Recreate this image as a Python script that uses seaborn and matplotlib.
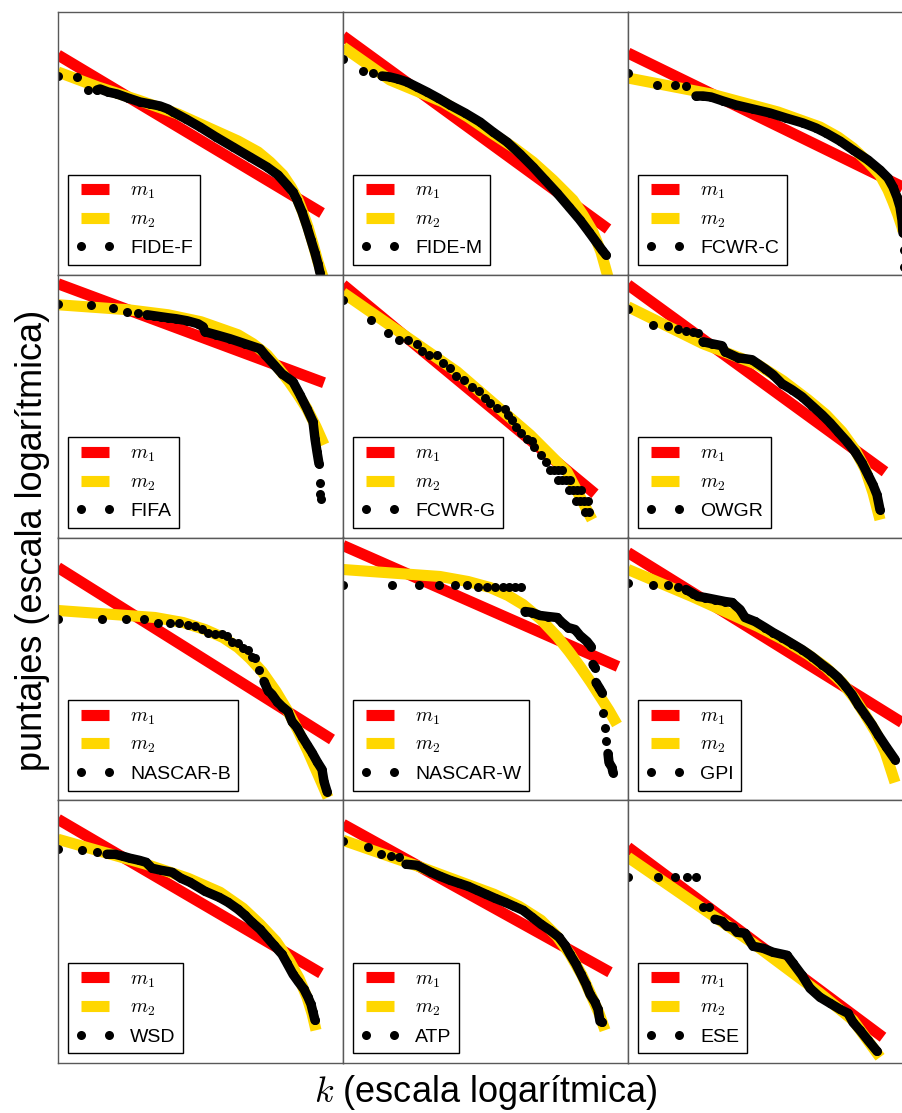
import numpy as np
import matplotlib
matplotlib.use("Agg")
import matplotlib.pyplot as plt
import seaborn as sns

sns.set_style("white")
plt.rcParams["font.family"] = ["Liberation Sans", "DejaVu Sans"]
plt.rcParams["mathtext.fontset"] = "cm"
plt.rcParams["text.color"] = "black"

# ---------------- data (log10 of rank k, log10 of score) ----------------
# FIDE-F
FIDE_F_K = [0, 0.19, 0.30, 0.39, 0.42, 0.50, 0.59, 0.70, 0.82, 0.92, 1.02, 1.10, 1.15, 1.28, 1.42,
            1.58, 1.75, 1.92, 2.09, 2.20, 2.29, 2.35, 2.39, 2.44, 2.49, 2.53, 2.57, 2.60, 2.62]
FIDE_F_S = [2.36, 2.35, 2.22, 2.22, 2.23, 2.20, 2.18, 2.14, 2.10, 2.08, 2.06, 2.03, 2.00, 1.93, 1.85,
            1.75, 1.65, 1.55, 1.45, 1.37, 1.27, 1.20, 1.12, 1.00, 0.85, 0.72, 0.59, 0.48, 0.39]
FIDE_F_M1_K = [0, 2.64]
FIDE_F_M1_S = [2.57, 0.99]
FIDE_F_M2_K = [0, 0.40, 0.80, 1.20, 1.60, 1.80, 2.00, 2.12, 2.25, 2.33, 2.40, 2.45, 2.50, 2.55, 2.60, 2.65]
FIDE_F_M2_S = [2.40, 2.25, 2.12, 1.98, 1.80, 1.71, 1.60, 1.50, 1.37, 1.25, 1.12, 0.99, 0.85, 0.68, 0.50, 0.35]
FIDE_F_RUNS = [(3, 28)]

# FIDE-M
FIDE_M_K = [0, 0.20, 0.30, 0.39, 0.47, 0.55, 0.64, 0.74, 0.84, 0.95, 1.07, 1.22, 1.37, 1.50, 1.64,
            1.77, 1.90, 2.02, 2.14, 2.26, 2.37, 2.46, 2.54, 2.59, 2.63]
FIDE_M_S = [2.53, 2.41, 2.39, 2.36, 2.35, 2.33, 2.30, 2.25, 2.20, 2.14, 2.07, 1.99, 1.90, 1.80, 1.70,
            1.58, 1.45, 1.32, 1.19, 1.05, 0.92, 0.80, 0.69, 0.62, 0.57]
FIDE_M_M1_K = [0, 2.65]
FIDE_M_M1_S = [2.76, 0.83]
FIDE_M_M2_K = [0, 0.47, 1.00, 1.25, 1.50, 1.70, 1.90, 2.10, 2.30, 2.40, 2.50, 2.58, 2.65]
FIDE_M_M2_S = [2.65, 2.32, 2.10, 1.95, 1.78, 1.65, 1.50, 1.32, 1.12, 0.97, 0.80, 0.60, 0.35]
FIDE_M_RUNS = [(3, 24)]

# FCWR-C
FCWR_C_K = [0, 0.29, 0.47, 0.58, 0.68, 0.75, 0.83, 0.95, 1.08, 1.25, 1.42, 1.58, 1.75, 1.88, 1.98,
            2.12, 2.25, 2.40, 2.52, 2.60, 2.65, 2.69, 2.72, 2.74, 2.75, 2.76, 2.76, 2.77]
FCWR_C_S = [2.39, 2.27, 2.27, 2.26, 2.16, 2.16, 2.15, 2.11, 2.07, 2.03, 1.99, 1.94, 1.89, 1.84, 1.79,
            1.71, 1.62, 1.52, 1.42, 1.34, 1.25, 1.15, 1.05, 0.92, 0.79, 0.62, 0.45, 0.30]
FCWR_C_M1_K = [0, 2.85]
FCWR_C_M1_S = [2.59, 1.20]
FCWR_C_M2_K = [0, 0.83, 1.50, 1.92, 2.10, 2.25, 2.40, 2.52, 2.60, 2.65, 2.70, 2.74, 2.78, 2.82]
FCWR_C_M2_S = [2.34, 2.18, 2.00, 1.85, 1.75, 1.64, 1.50, 1.37, 1.22, 1.10, 0.97, 0.85, 0.68, 0.50]
FCWR_C_RUNS = [(4, 27)]

# FIFA
FIFA_K = [0, 0.33, 0.55, 0.69, 0.80, 0.89, 0.96, 1.03, 1.10, 1.18, 1.29, 1.40, 1.45, 1.47, 1.58,
          1.72, 1.87, 2.02, 2.07, 2.16, 2.24, 2.35, 2.42, 2.49, 2.55, 2.57, 2.59, 2.61, 2.62, 2.62, 2.63]
FIFA_S = [2.71, 2.70, 2.67, 2.63, 2.62, 2.60, 2.59, 2.58, 2.57, 2.56, 2.54, 2.51, 2.48, 2.43, 2.40,
          2.36, 2.31, 2.26, 2.20, 2.10, 2.01, 1.93, 1.80, 1.66, 1.53, 1.36, 1.23, 1.11, 0.92, 0.81, 0.76]
FIFA_M1_K = [0, 2.66]
FIFA_M1_S = [2.91, 1.92]
FIFA_M2_K = [0, 0.70, 1.10, 1.43, 1.80, 1.95, 2.09, 2.20, 2.31, 2.40, 2.49, 2.58, 2.66]
FIFA_M2_S = [2.70, 2.65, 2.60, 2.53, 2.40, 2.31, 2.20, 2.07, 1.93, 1.80, 1.66, 1.48, 1.30]
FIFA_RUNS = [(5, 27)]

# FCWR-G
FCWR_G_K = [0, 0.28, 0.45, 0.56, 0.65, 0.74, 0.79, 0.86, 0.94, 1.00, 1.07, 1.13, 1.21, 1.29, 1.36,
            1.42, 1.47, 1.54, 1.62, 1.65, 1.69, 1.73, 1.78, 1.84, 1.89, 1.91, 1.98, 2.03, 2.07, 2.11,
            2.15, 2.19, 2.15, 2.19, 2.23, 2.27, 2.26, 2.30, 2.34, 2.38, 2.33, 2.37, 2.41, 2.45, 2.42, 2.46]
FCWR_G_S = [2.75, 2.55, 2.42, 2.35, 2.35, 2.31, 2.24, 2.20, 2.20, 2.12, 2.07, 1.99, 1.95, 1.88, 1.84,
            1.77, 1.72, 1.67, 1.66, 1.60, 1.55, 1.48, 1.42, 1.36, 1.34, 1.28, 1.20, 1.13, 1.05, 1.05,
            1.05, 1.05, 0.95, 0.95, 0.95, 0.95, 0.85, 0.85, 0.85, 0.85, 0.74, 0.74, 0.74, 0.74, 0.63, 0.63]
FCWR_G_M1_K = [0, 2.52]
FCWR_G_M1_S = [2.90, 0.81]
FCWR_G_M2_K = [0, 1.14, 1.87, 2.24, 2.49]
FCWR_G_M2_S = [2.82, 2.03, 1.40, 1.03, 0.55]
FCWR_G_RUNS = []

# OWGR
OWGR_K = [0, 0.25, 0.40, 0.50, 0.58, 0.65, 0.70, 0.75, 0.84, 0.94, 0.97, 1.10, 1.24, 1.37, 1.45,
          1.54, 1.64, 1.74, 1.84, 1.94, 2.02, 2.10, 2.19, 2.27, 2.34, 2.40, 2.45, 2.49, 2.52]
OWGR_S = [2.66, 2.50, 2.49, 2.46, 2.44, 2.43, 2.42, 2.33, 2.31, 2.29, 2.23, 2.17, 2.15, 2.06, 2.00,
          1.91, 1.85, 1.78, 1.69, 1.60, 1.52, 1.43, 1.33, 1.23, 1.12, 1.00, 0.90, 0.80, 0.65]
OWGR_M1_K = [0, 2.57]
OWGR_M1_S = [2.90, 1.03]
OWGR_M2_K = [0, 0.75, 1.30, 1.55, 1.80, 1.98, 2.14, 2.27, 2.37, 2.45, 2.52]
OWGR_M2_S = [2.68, 2.31, 2.10, 1.94, 1.75, 1.60, 1.43, 1.25, 1.06, 0.82, 0.55]
OWGR_RUNS = [(7, 28)]

# NASCAR-B
NASCAR_B_K = [0, 0.44, 0.68, 0.86, 1.00, 1.12, 1.21, 1.30, 1.37, 1.44, 1.50, 1.57, 1.64, 1.69, 1.74,
              1.80, 1.85, 1.90, 1.94, 1.97, 2.01, 2.06, 2.10, 2.14, 2.19, 2.24, 2.30, 2.34, 2.39, 2.44,
              2.49, 2.54, 2.59, 2.64, 2.66, 2.69]
NASCAR_B_S = [2.19, 2.18, 2.18, 2.18, 2.15, 2.15, 2.15, 2.13, 2.12, 2.09, 2.05, 2.04, 2.04, 2.02, 1.96,
              1.95, 1.90, 1.88, 1.81, 1.80, 1.68, 1.56, 1.47, 1.43, 1.36, 1.31, 1.26, 1.16, 1.10, 1.01,
              0.93, 0.85, 0.76, 0.68, 0.56, 0.46]
NASCAR_B_M1_K = [0, 2.74]
NASCAR_B_M1_S = [2.70, 0.98]
NASCAR_B_M2_K = [0, 0.97, 1.25, 1.47, 1.65, 1.80, 1.92, 2.04, 2.18, 2.30, 2.40, 2.50, 2.60, 2.70]
NASCAR_B_M2_S = [2.27, 2.20, 2.15, 2.08, 2.00, 1.90, 1.79, 1.66, 1.46, 1.26, 1.07, 0.86, 0.63, 0.40]
NASCAR_B_RUNS = [(21, 35)]

# NASCAR-W
NASCAR_W_K = [0, 0.49, 0.76, 0.96, 1.12, 1.24, 1.35, 1.44, 1.52, 1.60, 1.66, 1.72, 1.78, 1.82, 1.89,
              1.97, 2.05, 2.14, 2.19, 2.25, 2.32, 2.37, 2.44, 2.48, 2.50, 2.52, 2.53, 2.56, 2.59, 2.60,
              2.62, 2.63, 2.65, 2.66, 2.69, 2.70]
NASCAR_W_S = [2.53, 2.53, 2.53, 2.52, 2.52, 2.52, 2.51, 2.51, 2.51, 2.51, 2.51, 2.51, 2.51, 2.26, 2.25,
              2.22, 2.21, 2.20, 2.15, 2.10, 2.08, 2.02, 1.96, 1.91, 1.73, 1.70, 1.55, 1.50, 1.45, 1.25,
              1.10, 0.97, 0.84, 0.75, 0.70, 0.65]
NASCAR_W_M1_K = [0, 2.75]
NASCAR_W_M1_S = [2.92, 1.71]
NASCAR_W_M2_K = [0, 0.97, 1.25, 1.47, 1.65, 1.80, 1.98, 2.14, 2.26, 2.37, 2.48, 2.57, 2.66, 2.74]
NASCAR_W_M2_S = [2.68, 2.61, 2.56, 2.50, 2.42, 2.33, 2.18, 2.01, 1.86, 1.71, 1.55, 1.41, 1.27, 1.13]
NASCAR_W_RUNS = [(13, 23), (24, 25), (26, 28), (32, 35)]

# GPI
GPI_K = [0, 0.25, 0.40, 0.50, 0.58, 0.65, 0.70, 0.77, 0.87, 0.97, 1.04, 1.12, 1.17, 1.27, 1.37,
         1.45, 1.54, 1.64, 1.74, 1.84, 1.94, 2.02, 2.10, 2.17, 2.24, 2.30, 2.37, 2.44, 2.50, 2.58, 2.67]
GPI_S = [2.54, 2.52, 2.52, 2.51, 2.48, 2.44, 2.41, 2.40, 2.38, 2.36, 2.35, 2.28, 2.20, 2.16, 2.10,
         2.05, 2.00, 1.94, 1.88, 1.81, 1.73, 1.67, 1.60, 1.52, 1.43, 1.33, 1.23, 1.13, 1.03, 0.91, 0.78]
GPI_M1_K = [0, 2.74]
GPI_M1_S = [2.85, 1.15]
GPI_M2_K = [0, 0.64, 1.30, 1.55, 1.80, 1.98, 2.14, 2.26, 2.37, 2.48, 2.57, 2.67]
GPI_M2_S = [2.68, 2.41, 2.11, 1.98, 1.83, 1.70, 1.55, 1.40, 1.23, 1.05, 0.86, 0.55]
GPI_RUNS = [(4, 30)]

# WSD
WSD_K = [0, 0.24, 0.39, 0.49, 0.57, 0.65, 0.72, 0.81, 0.88, 0.94, 1.03, 1.14, 1.23, 1.32, 1.47,
         1.61, 1.70, 1.80, 1.87, 1.94, 2.02, 2.09, 2.16, 2.24, 2.29, 2.35, 2.40, 2.46, 2.50, 2.53,
         2.55, 2.57]
WSD_S = [2.51, 2.50, 2.48, 2.46, 2.46, 2.44, 2.42, 2.40, 2.38, 2.32, 2.30, 2.28, 2.22, 2.18, 2.09,
         2.03, 1.98, 1.91, 1.85, 1.78, 1.71, 1.63, 1.55, 1.46, 1.37, 1.26, 1.19, 1.11, 1.03, 0.96,
         0.88, 0.80]
WSD_M1_K = [0, 2.63]
WSD_M1_S = [2.81, 1.27]
WSD_M2_K = [0, 0.88, 1.30, 1.62, 1.85, 2.02, 2.18, 2.31, 2.41, 2.49, 2.54, 2.58]
WSD_M2_S = [2.61, 2.36, 2.22, 2.08, 1.92, 1.76, 1.59, 1.40, 1.22, 1.03, 0.87, 0.70]
WSD_RUNS = [(3, 31)]

# ATP
ATP_K = [0, 0.25, 0.38, 0.48, 0.56, 0.63, 0.74, 0.88, 0.97, 1.07, 1.16, 1.25, 1.34, 1.43, 1.52,
         1.62, 1.71, 1.80, 1.89, 1.98, 2.07, 2.16, 2.22, 2.27, 2.33, 2.38, 2.43, 2.47, 2.52, 2.55,
         2.57, 2.59]
ATP_S = [2.59, 2.53, 2.46, 2.44, 2.43, 2.36, 2.35, 2.28, 2.24, 2.20, 2.17, 2.14, 2.10, 2.06, 2.02,
         1.98, 1.94, 1.90, 1.83, 1.76, 1.70, 1.63, 1.55, 1.46, 1.36, 1.26, 1.16, 1.06, 0.98, 0.91,
         0.79, 0.78]
ATP_M1_K = [0, 2.67]
ATP_M1_S = [2.76, 1.28]
ATP_M2_K = [0, 0.78, 1.51, 1.76, 1.98, 2.14, 2.27, 2.39, 2.49, 2.56, 2.62]
ATP_M2_S = [2.60, 2.33, 2.06, 1.94, 1.80, 1.64, 1.46, 1.25, 1.03, 0.87, 0.70]
ATP_RUNS = [(5, 31)]

# ESE
ESE_K = [0, 0.30, 0.47, 0.59, 0.68, 0.75, 0.81, 0.87, 0.94, 0.99, 1.05, 1.09, 1.17, 1.25, 1.35,
         1.45, 1.59, 1.65, 1.74, 1.82, 1.92, 2.02, 2.12, 2.20, 2.25, 2.32, 2.40, 2.49]
ESE_S = [2.23, 2.23, 2.23, 2.23, 2.23, 1.93, 1.93, 1.81, 1.79, 1.74, 1.73, 1.68, 1.67, 1.54, 1.52,
         1.48, 1.45, 1.37, 1.25, 1.12, 1.03, 0.97, 0.91, 0.87, 0.78, 0.70, 0.60, 0.49]
ESE_M1_K = [0, 2.55]
ESE_M1_S = [2.53, 0.63]
ESE_M2_K = [0, 1.25, 1.92, 2.25, 2.52]
ESE_M2_S = [2.43, 1.57, 1.07, 0.80, 0.43]
ESE_RUNS = [(7, 27)]

NAMES = ["FIDE-F", "FIDE-M", "FCWR-C", "FIFA", "FCWR-G", "OWGR",
         "NASCAR-B", "NASCAR-W", "GPI", "WSD", "ATP", "ESE"]
PANELS = [
    (FIDE_F_K, FIDE_F_S, FIDE_F_M1_K, FIDE_F_M1_S, FIDE_F_M2_K, FIDE_F_M2_S, FIDE_F_RUNS),
    (FIDE_M_K, FIDE_M_S, FIDE_M_M1_K, FIDE_M_M1_S, FIDE_M_M2_K, FIDE_M_M2_S, FIDE_M_RUNS),
    (FCWR_C_K, FCWR_C_S, FCWR_C_M1_K, FCWR_C_M1_S, FCWR_C_M2_K, FCWR_C_M2_S, FCWR_C_RUNS),
    (FIFA_K, FIFA_S, FIFA_M1_K, FIFA_M1_S, FIFA_M2_K, FIFA_M2_S, FIFA_RUNS),
    (FCWR_G_K, FCWR_G_S, FCWR_G_M1_K, FCWR_G_M1_S, FCWR_G_M2_K, FCWR_G_M2_S, FCWR_G_RUNS),
    (OWGR_K, OWGR_S, OWGR_M1_K, OWGR_M1_S, OWGR_M2_K, OWGR_M2_S, OWGR_RUNS),
    (NASCAR_B_K, NASCAR_B_S, NASCAR_B_M1_K, NASCAR_B_M1_S, NASCAR_B_M2_K, NASCAR_B_M2_S, NASCAR_B_RUNS),
    (NASCAR_W_K, NASCAR_W_S, NASCAR_W_M1_K, NASCAR_W_M1_S, NASCAR_W_M2_K, NASCAR_W_M2_S, NASCAR_W_RUNS),
    (GPI_K, GPI_S, GPI_M1_K, GPI_M1_S, GPI_M2_K, GPI_M2_S, GPI_RUNS),
    (WSD_K, WSD_S, WSD_M1_K, WSD_M1_S, WSD_M2_K, WSD_M2_S, WSD_RUNS),
    (ATP_K, ATP_S, ATP_M1_K, ATP_M1_S, ATP_M2_K, ATP_M2_S, ATP_RUNS),
    (ESE_K, ESE_S, ESE_M1_K, ESE_M1_S, ESE_M2_K, ESE_M2_S, ESE_RUNS),
]

# ---------------- layout ----------------
W, H = 903, 1113
fig = plt.figure(figsize=(W / 100, H / 100), dpi=100)
col_x = [58, 343, 628]
aw = 285
ah = 262.75
row_y = [12 + i * ah for i in range(4)]


def p10(a):
    return 10 ** np.asarray(a, dtype=float)


for i, (name, (k, s, m1k, m1s, m2k, m2s, runs)) in enumerate(zip(NAMES, PANELS)):
    r, c = divmod(i, 3)
    ax = fig.add_axes([col_x[c] / W, 1 - (row_y[r] + ah) / H, aw / W, ah / H])
    ax.set_xscale("log")
    ax.set_yscale("log")
    sns.lineplot(x=p10(m1k), y=p10(m1s), ax=ax, color="#ff0000", lw=8.0,
                 solid_capstyle="butt", label="$m_1$", estimator=None, sort=False, legend=False)
    sns.lineplot(x=p10(m2k), y=p10(m2s), ax=ax, color="#ffd700", lw=8.0,
                 solid_capstyle="butt", solid_joinstyle="round", label="$m_2$",
                 estimator=None, sort=False, legend=False)
    kk, ss = p10(k), p10(s)
    for a, b in runs:
        sns.lineplot(x=kk[a:b + 1], y=ss[a:b + 1], ax=ax, color="black", lw=6.8,
                     solid_capstyle="round", solid_joinstyle="round",
                     estimator=None, sort=False, legend=False)
    sns.lineplot(x=kk, y=ss, ax=ax, color="black", marker="o", linestyle="",
                 markersize=6.5, markeredgewidth=0, markeredgecolor="black",
                 label=name, estimator=None, sort=False, legend=False)
    ax.set_xlim(1, 10 ** 2.85)
    ax.set_ylim(10 ** (3 - ah / 100), 1000)
    ax.set_xlabel("")
    ax.set_ylabel("")
    ax.tick_params(which="both", bottom=False, left=False, top=False, right=False,
                   labelbottom=False, labelleft=False)
    for sp in ax.spines.values():
        sp.set_color("0.35")
        sp.set_linewidth(1.0)
    ax.legend(loc="lower left", fontsize=14, numpoints=2, fancybox=False,
              edgecolor="black", framealpha=1, borderaxespad=0.5)

fig.text(485.5 / W, 1 - 1093 / H, "$k$ (escala logarítmica)", ha="center", va="center",
         fontsize=26)
fig.text(33 / W, 1 - 540 / H, "puntajes (escala logarítmica)", ha="center", va="center",
         rotation=90, fontsize=26)

fig.savefig("out.png", dpi=100)
